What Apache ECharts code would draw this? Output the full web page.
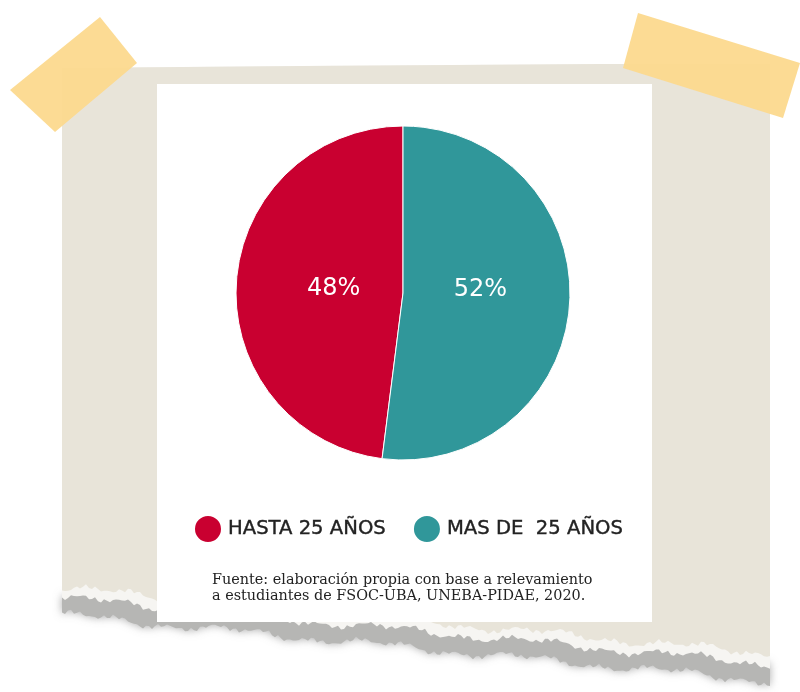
<!DOCTYPE html>
<html>
<head>
<meta charset="utf-8">
<script src="https://cdn.jsdelivr.net/npm/echarts@6/dist/echarts.min.js"></script>
<style>
html,body{margin:0;padding:0;background:#ffffff;}
#chart{width:800px;height:692px;}
</style>
</head>
<body>
<div id="chart"></div>
<script>
// ---- data ----
const categories = ['HASTA 25 AÑOS', 'MAS DE  25 AÑOS'];
const values = [48, 52];
const colors = ['#c90030', '#30979a'];
const sourceLines = [
  'Fuente: elaboración propia con base a relevamiento',
  'a estudiantes de FSOC-UBA, UNEBA-PIDAE, 2020.'
];

// ---- decorative paper shapes ----
function jitter(x, k) {
  return 3.0 * Math.sin(x * 0.043 + k) + 2.2 * Math.sin(x * 0.131 + 2 * k) +
         1.4 * Math.sin(x * 0.57 + 3 * k) + 0.9 * Math.sin(x * 1.37 + k);
}
function edge(x0, y0, x1, y1, off, k) {
  const pts = [];
  for (let x = x1; x >= x0; x -= 3) {
    const y = y0 + (x - x0) * (y1 - y0) / (x1 - x0) + off + jitter(x, k);
    pts.push([x, y]);
  }
  return pts;
}
const paperTop = [[62, 68], [300, 66], [600, 64], [770, 64]];
const beigePts = paperTop.concat(edge(62, 588, 770, 654, 0, 0));
const whitePts = paperTop.concat(edge(62, 588, 770, 654, 10, 0.4));
const shadowBand = edge(62, 588, 770, 654, 6, 0.2).reverse().concat(edge(62, 588, 770, 654, 27, 0.9));

const chart = echarts.init(document.getElementById('chart'));
chart.setOption({
  backgroundColor: '#ffffff',
  animation: false,
  color: colors,
  graphic: [
    { type: 'polygon', z: -10, shape: { points: shadowBand },
      style: { fill: '#b6b6b4', shadowBlur: 8, shadowColor: 'rgba(150,150,150,0.8)' } },
    { type: 'polygon', z: -9, shape: { points: whitePts }, style: { fill: '#f6f5f2' } },
    { type: 'polygon', z: -8, shape: { points: beigePts }, style: { fill: '#e8e4d9' } },
    { type: 'rect', z: -7, shape: { x: 157, y: 84, width: 495, height: 538 }, style: { fill: '#ffffff' } },
    { type: 'polygon', z: -6, shape: { points: [[10, 90], [100, 17], [137, 63], [55, 132]] },
      style: { fill: '#fcd98e', opacity: 0.95 } },
    { type: 'polygon', z: -6, shape: { points: [[638, 13], [800, 63], [783, 118], [623, 68]] },
      style: { fill: '#fcd98e', opacity: 0.95 } },
    { type: 'text', z: 5, left: 212, top: 572,
      style: { text: sourceLines.join('\n'), fill: '#222222', font: '14.4px "DejaVu Serif", serif', lineHeight: 16 } }
  ],
  legend: {
    left: 193, top: 514, padding: 0,
    itemWidth: 28, itemHeight: 28, itemGap: 26,
    icon: 'circle',
    textStyle: { fontFamily: '"DejaVu Sans", sans-serif', fontSize: 19.6, color: '#222222',
      textBorderColor: '#222222', textBorderWidth: 0.4, padding: [0, 0, 0, 1] },
    data: categories
  },
  series: [{
    type: 'pie',
    center: [403, 293],
    radius: [0, 167],
    startAngle: 90,
    clockwise: false,
    itemStyle: { borderColor: '#ffffff', borderWidth: 1 },
    label: {
      show: true, position: 'inside',
      formatter: '{c}%',
      color: '#ffffff', fontSize: 24, fontFamily: '"DejaVu Sans", sans-serif'
    },
    labelLayout: function (p) {
      return p.dataIndex === 0 ? { dx: 17, dy: 1 } : { dx: -9, dy: -9 };
    },
    data: categories.map((c, i) => ({ name: c, value: values[i] }))
  }]
});
</script>
</body>
</html>
